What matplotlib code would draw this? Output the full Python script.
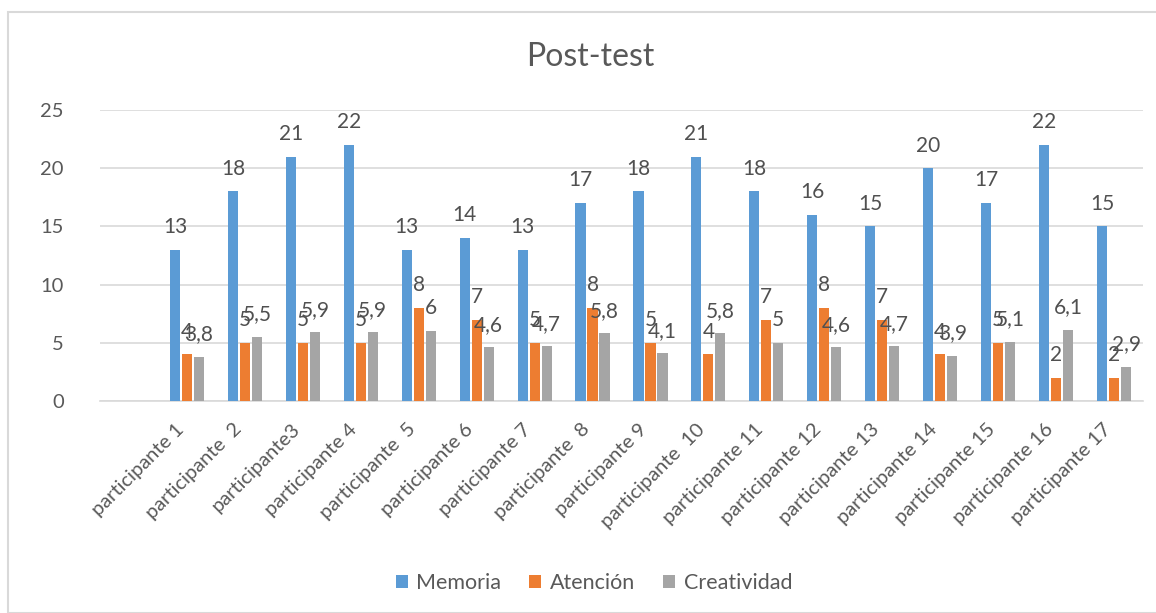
import matplotlib
matplotlib.use("Agg")
import matplotlib.pyplot as plt
from matplotlib.patches import Rectangle
import numpy as np

participants = ["participante 1", "participante  2", "participante3", "participante 4",
                "participante  5", "participante 6", "participante 7", "participante  8",
                "participante 9", "participante  10", "participante 11", "participante 12",
                "participante 13", "participante 14", "participante 15", "participante 16",
                "participante 17"]
memoria = [13, 18, 21, 22, 13, 14, 13, 17, 18, 21, 18, 16, 15, 20, 17, 22, 15]
atencion = [4, 5, 5, 5, 8, 7, 5, 8, 5, 4, 7, 8, 7, 4, 5, 2, 2]
creatividad = [3.8, 5.5, 5.9, 5.9, 6, 4.6, 4.7, 5.8, 4.1, 5.8, 5, 4.6, 4.7, 3.9, 5.1, 6.1, 2.9]

series = [("Memoria", memoria, "#5B9BD5"),
          ("Atención", atencion, "#ED7D31"),
          ("Creatividad", creatividad, "#A5A5A5")]

plt.rcParams["font.family"] = ["Lato", "DejaVu Sans"]
text_color = "#595959"

fig = plt.figure(figsize=(11.56, 6.13), dpi=100)
fig.patches.append(Rectangle((8 / 1156, 0), 1.2, 1 - 12 / 613, transform=fig.transFigure,
                             fill=False, edgecolor="#D9D9D9", linewidth=1.5))

ax = fig.add_axes([100 / 1156, 1 - 401 / 613, 1043 / 1156, 291 / 613])

x = np.arange(len(participants))
width = 0.175
step = 0.207


def fmt(v):
    s = f"{v:g}"
    return s.replace(".", ",")


for i, (name, vals, color) in enumerate(series):
    pos = x + (i - 1) * step
    ax.bar(pos, vals, width=width, color=color, label=name, zorder=3)
    for bx, v in zip(pos, vals):
        ax.annotate(fmt(v), (bx, v), xytext=(0, 12), textcoords="offset points",
                    ha="center", va="baseline", fontsize=15, color="#505050", zorder=4)

ax.set_xlim(-1.5, len(participants) - 0.5)
ax.set_ylim(0, 25)
ax.set_yticks(range(0, 26, 5))
ax.set_xticks(x)
ax.set_xticklabels(participants, rotation=45, ha="right", rotation_mode="default",
                   fontsize=14.5, color=text_color)
ax.tick_params(axis="y", labelsize=14.5, labelcolor=text_color, length=0, pad=26)
ax.tick_params(axis="x", length=0, pad=14)
ax.grid(axis="y", color="#D9D9D9", linewidth=1.2, zorder=0)
for side in ["top", "right", "left"]:
    ax.spines[side].set_visible(False)
ax.spines["bottom"].set_color("#D9D9D9")
ax.spines["bottom"].set_linewidth(1.2)

fig.text(590 / 1156, 1 - 57 / 613, "Post-test", ha="center", va="center",
         fontsize=23, color=text_color)

fig.legend(loc="center", bbox_to_anchor=(594 / 1156, 1 - 583 / 613), ncol=3,
           frameon=False, fontsize=15.5, handlelength=0.55, handleheight=0.55,
           handletextpad=0.4, columnspacing=1.3, labelcolor=text_color)

fig.savefig("out.png", dpi=100)
